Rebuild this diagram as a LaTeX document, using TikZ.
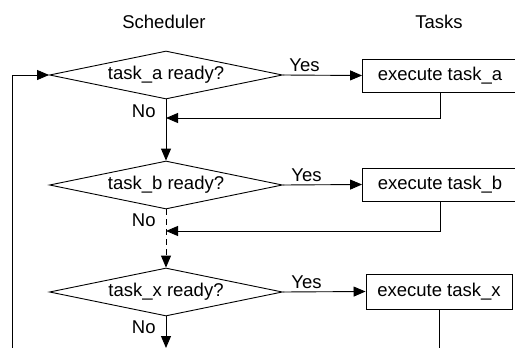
\documentclass[tikz,border=0pt]{standalone}
\usepackage{fontspec}
\setmainfont{Liberation Sans}
\usetikzlibrary{shapes.geometric,arrows.meta}
\begin{document}
\begin{tikzpicture}[x=1pt,y=-1pt, line width=0.9pt,
  every node/.style={font=\fontsize{18.5}{21}\selectfont},
  dec/.style={diamond, draw, shape aspect=4.854, minimum width=233pt, minimum height=48pt, inner sep=0pt},
  taskbox/.style={draw, minimum width=155pt, minimum height=33pt, inner sep=0pt},
  arr/.style={-{Triangle[length=12pt,width=10pt]}},
  lbl/.style={inner sep=0pt},
  dashline/.style={dash pattern=on 6pt off 4pt}]
\useasboundingbox (0,0) rectangle (515,348);
\node (hs) at (164,22) {Scheduler};
\node (ht) at (439,22) {Tasks};
\node[dec] (da) at (166,75) {task\_a ready?};
\node[dec] (db) at (166,185) {task\_b ready?};
\node[dec] (dx) at (166,292) {task\_x ready?};
\node[taskbox] (ta) at (440,75.5) {execute task\_a};
\node[taskbox] (tb) at (440,184.5) {execute task\_b};
\node[taskbox, minimum width=146pt, minimum height=35pt] (tx) at (439,291.5) {execute task\_x};
% yes arrows
\draw[arr] (da.east) -- (ta.west);
\draw[arr] (db.east) -- (tb.west);
\draw[arr] (dx.east) -- (tx.west);
\node[lbl, anchor=base west] (ya) at (289,71) {Yes};
\node[lbl, anchor=base west] (yb) at (291,181) {Yes};
\node[lbl, anchor=base west] (yx) at (291,288) {Yes};
% no labels
\node[lbl, anchor=base east] (na) at (156,117) {No};
\node[lbl, anchor=base east] (nb) at (156,226) {No};
\node[lbl, anchor=base east] (nx) at (156,333) {No};
% main flow
\draw[arr] (da.south) -- (db.north);
\draw[arr, dashline] (db.south) -- (dx.north);
\coordinate (ex) at (166,348);
\draw[arr] (dx.south) -- (ex);
% returns
\coordinate (ra) at (166,118);
\coordinate (rb) at (166,231);
\draw[arr] (ta.south) |- (ra);
\draw[arr] (tb.south) |- (rb);
\coordinate (bx) at (439,348);
\draw (tx.south) -- (bx);
% loop
\coordinate (la) at (12,348);
\draw[arr] (la) |- (da.west);
\end{tikzpicture}
\end{document}
